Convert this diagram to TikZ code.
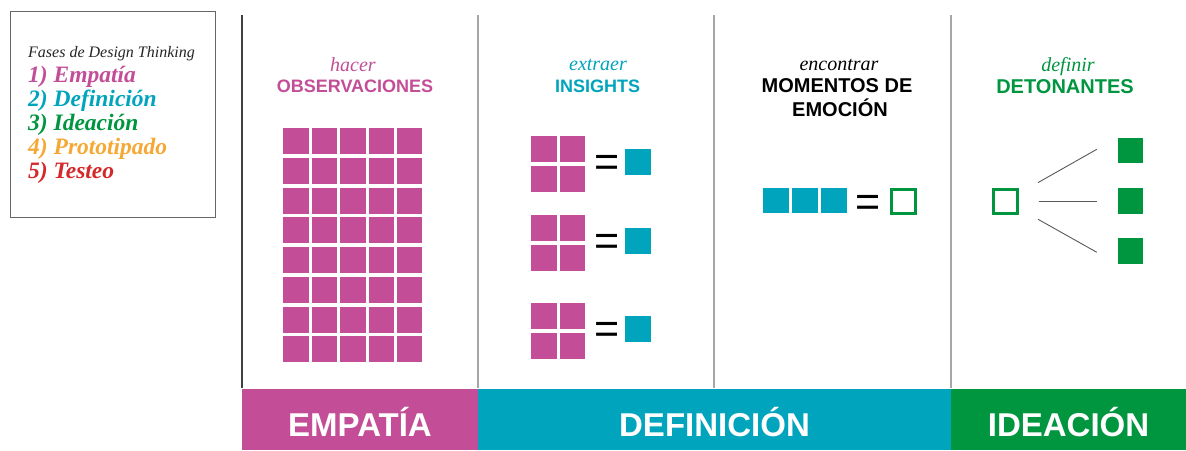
\documentclass[tikz,border=0pt]{standalone}
\usepackage{fontspec}
\setmainfont{Liberation Serif}
\setsansfont{Liberation Sans}
\usepackage{tikz}
\usetikzlibrary{positioning}
\definecolor{empatia}{RGB}{195,78,151}
\definecolor{definicion}{RGB}{0,164,189}
\definecolor{ideacion}{RGB}{0,150,64}
\definecolor{prototipo}{RGB}{246,168,52}
\definecolor{testeo}{RGB}{213,40,42}
\tikzset{
    msq/.style={rectangle, fill=empatia, minimum width=25.5pt, minimum height=26pt, inner sep=0pt},
    csq/.style={rectangle, fill=definicion, minimum size=25.5pt, inner sep=0pt},
    gsq/.style={rectangle, fill=ideacion, minimum size=25.5pt, inner sep=0pt},
    osq/.style={rectangle, draw=ideacion, line width=3pt, minimum size=24pt, inner sep=0pt},
    eqs/.style={font=\sffamily\fontsize{43}{43}\selectfont, inner sep=0pt},
    verb/.style={font=\itshape\fontsize{20}{24}\selectfont, inner sep=0pt, anchor=base},
    head/.style={font=\sffamily\bfseries\fontsize{18}{22}\selectfont, inner sep=0pt, anchor=base},
    bighead/.style={head, font=\sffamily\bfseries\fontsize{20}{22}\selectfont},
    band/.style={rectangle, inner sep=0pt, minimum height=61pt, text=white, font=\sffamily\bfseries\fontsize{33}{33}\selectfont, text height=33.6pt, text depth=0pt},
    phase/.style={font=\bfseries\itshape\fontsize{23.5}{24}\selectfont, inner sep=0pt, anchor=base west},
    sep/.style={line width=1.2pt},
    fan/.style={draw=black!65, line width=0.9pt},
}
\begin{document}
\begin{tikzpicture}[x=1pt, y=-1pt]
    \path[fill=white] (0,0) rectangle (1186,450);
    \useasboundingbox (0,0) rectangle (1186,450);
    % legend
    \node [draw=black!60, line width=1pt, minimum width=205pt, minimum height=206pt] (legend) at (112.5,114) {};
    \node [phase, font=\itshape\fontsize{16}{18}\selectfont, text=black!85] (title) at (28,57) {Fases de Design Thinking};
    \node [phase, text=empatia] (ph1) at (28,82) {1) Empatía};
    \node [phase, text=definicion] (ph2) at (28,106) {2) Definición};
    \node [phase, text=ideacion] (ph3) at (28,130) {3) Ideación};
    \node [phase, text=prototipo] (ph4) at (28,154) {4) Prototipado};
    \node [phase, text=testeo] (ph5) at (28,178) {5) Testeo};
    % separators
    \draw [sep, black!75] (242,15) -- (242,388);
    \draw [sep, black!35] (478,15) -- (478,388);
    \draw [sep, black!35] (714,15) -- (714,388);
    \draw [sep, black!35] (951,15) -- (951,388);
    % empatia
    \node [verb, text=empatia] (hacer) at (353,71) {hacer};
    \node [head, text=empatia] (obs) at (355,92.7) {OBSERVACIONES};
    \foreach \i in {0,...,4}
        \foreach \j in {0,...,7}
            \node [msq] (obs-\i-\j) at (296.1+28.4*\i, 141.3+29.7*\j) {};
    % definicion
    \node [verb, text=definicion] (extraer) at (598,70.7) {extraer};
    \node [head, text=definicion] (ins) at (597.5,92.7) {INSIGHTS};
    \foreach \c [count=\k] in {164,243,331} {
        \node [msq] (ins\k-a) at (544,\c-15) {};
        \node [msq] (ins\k-b) [right=2.8pt of ins\k-a] {};
        \node [msq] (ins\k-c) at (544,\c+15) {};
        \node [msq] (ins\k-d) [right=2.8pt of ins\k-c] {};
        \node [eqs] (eq\k) at (606.7,\c+2) {=};
        \node [csq] (insight\k) at (638,\c-2) {};
    }
    \node [verb, text=black] (encontrar) at (839,70.7) {encontrar};
    \node [bighead, text=black] (mom) at (837,92.7) {MOMENTOS DE};
    \node [bighead, text=black] (emo) at (840,116) {EMOCIÓN};
    \node [csq] (mom1) at (776,200.5) {};
    \node [csq] (mom2) [right=3pt of mom1] {};
    \node [csq] (mom3) [right=3pt of mom2] {};
    \node [eqs] (eq4) at (868,205.5) {=};
    \node [osq] (emocion) at (903.5,201.5) {};
    % ideacion
    \node [verb, text=ideacion] (definir) at (1068,71.7) {definir};
    \node [bighead, text=ideacion] (det) at (1065,93.3) {DETONANTES};
    \node [osq] (seed) at (1005.5,201) {};
    \node [gsq] (det1) at (1130.5,150.5) {};
    \node [gsq] (det2) at (1130.5,201) {};
    \node [gsq] (det3) at (1130.5,251) {};
    \draw [fan, shorten <=37.3pt, shorten >=23.8pt] (seed.center) -- (det1.north west);
    \draw [fan, shorten <=33pt, shorten >=21pt] (seed.center) -- (det2.west);
    \draw [fan, shorten <=37.3pt, shorten >=23.8pt] (seed.center) -- (det3.south west);
    % bands
    \node [band, fill=empatia, minimum width=236pt] (bemp) at (360,419.5) {EMPATÍA};
    \node [band, fill=definicion, minimum width=473pt] (bdef) at (714.5,419.5) {DEFINICIÓN};
    \node [band, fill=ideacion, minimum width=235pt] (bide) at (1068.5,419.5) {IDEACIÓN};
\end{tikzpicture}
\end{document}
